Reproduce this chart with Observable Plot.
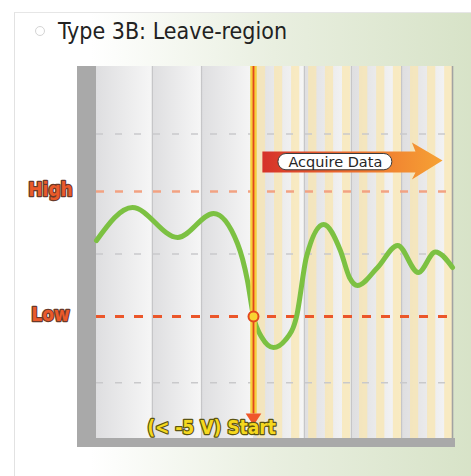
<!DOCTYPE html>
<html>
<head>
<meta charset="utf-8">
<script src="https://cdn.jsdelivr.net/npm/d3@7"></script>
<script src="https://cdn.jsdelivr.net/npm/@observablehq/plot@0.6"></script>
<style>
  html, body { margin: 0; padding: 0; background: #fff; }
  #wrap { position: relative; width: 471px; height: 476px; overflow: hidden; background: #fff; }
  #panel { position: absolute; left: 14px; top: 12px; width: 470px; height: 480px;
    border-left: 1px solid #e2e2e2; border-top: 1px solid #e6e6e6;
    background: linear-gradient(to right, #ffffff 0%, #ffffff 16%, #e9efe0 55%, #d6e2c6 100%); }
  #bullet { position: absolute; left: 35px; top: 26px; width: 8px; height: 8px; border-radius: 50%;
    border: 1px solid #d4d4d4; background: #fff; }
  #title { position: absolute; left: 58px; top: 20px; font-family: "DejaVu Sans Condensed", "DejaVu Sans", sans-serif;
    font-size: 23px; line-height: 23px; color: #222; white-space: nowrap; }
  .bar { position: absolute; background: #a9a9a9; }
  #chart { position: absolute; left: 0; top: 0; }
  #chart svg { background: transparent !important; }
</style>
</head>
<body>
<div id="wrap">
  <div id="panel"></div>
  <div id="bullet"></div>
  <div id="title">Type 3B: Leave-region</div>
  <div class="bar" style="left:77px;top:66px;width:19px;height:381px"></div>
  <div class="bar" style="left:77px;top:438px;width:378px;height:9px"></div>
  <div id="chart"></div>
</div>
<script>
// ---- data ----
const xDomain = [0, 100];
const yDomain = [-14.76, 15];
const columnEdges = [0, 15.7, 29.5, 44.1, 58.4, 71.6, 85.7, 100];
const gridX = [15.7, 29.5, 58.4, 71.6, 85.7];
const frameRightX = [100];
const stripeStarts = [45.2, 50.0, 54.8, 59.6, 64.3, 69.1, 73.9, 78.7, 83.4, 88.2, 93.0, 97.8];
const stripeWidth = 2.3;
const refLines = [9.6, 0, -10.3];
const levelNames = ["High", "Low"];
const levelValues = [5, -5];
const signalX = [0, 10.1, 22.8, 32.9, 39.6, 42.4, 44.1, 46.5, 49.7, 53.0, 56.2, 59.0, 63.8, 68.5, 71.1, 73.3, 78.9, 84.6, 90.4, 95.2, 100];
const signalY = [1.08, 3.72, 1.32, 3.24, 0.84, -2.12, -5.0, -6.7, -7.48, -6.9, -5.0, -0.2, 2.36, 0.28, -1.9, -2.52, -1.1, 0.68, -1.48, 0.16, -1.08];
const startX = 44.1;
const startLevel = -5;
const startTop = 15;
const startBottom = -12.8;
const startHeadX = [41.9, 44.1, 46.3];
const startHeadY = [-12.76, -13.72, -12.76];
const startLabel = "(< -5 V) Start";
const acquireX = [46.6, 89.6, 88.6, 97.2, 88.6, 89.6, 46.6];
const acquireY = [8.2, 8.2, 8.92, 7.48, 5.96, 6.52, 6.52];
const acquirePill = [{x1: 51.1, x2: 83.1, y1: 6.7, y2: 8.0}];
const acquireLabel = "Acquire Data";
const acquireLabelX = 67.1;
const acquireLabelY = 7.36;

// ---- derived tables ----
const columns = columnEdges.slice(0, -1).map((x1, i) => ({x1, x2: columnEdges[i + 1]}));
const stripes = stripeStarts.map(x1 => ({x1, x2: Math.min(x1 + stripeWidth, xDomain[1])}));
const signal = signalX.map((x, i) => ({x, y: signalY[i]}));
const levels = levelNames.map((name, i) => ({name, value: levelValues[i]}));
const startHead = startHeadX.map((x, i) => ({x, y: startHeadY[i]}));
const acquire = acquireX.map((x, i) => ({x, y: acquireY[i]}));
const fam = '"DejaVu Sans Condensed", "DejaVu Sans", sans-serif';

const chart = Plot.plot({
  width: 471,
  height: 476,
  marginLeft: 96,
  marginRight: 19,
  marginTop: 66,
  marginBottom: 38,
  style: {background: "transparent", overflow: "visible"},
  x: {domain: xDomain, axis: null},
  y: {domain: yDomain, axis: null},
  marks: [
    Plot.rect(columns, {x1: "x1", x2: "x2", y1: yDomain[0], y2: yDomain[1], fill: "url(#colGrad)"}),
    Plot.rect(stripes, {x1: "x1", x2: "x2", y1: yDomain[0], y2: yDomain[1], fill: "#f9e6ae", fillOpacity: 0.72}),
    Plot.ruleX(gridX, {stroke: "#c6c6c8", strokeWidth: 1.2}),
    Plot.ruleX(frameRightX, {stroke: "#a2a2a2", strokeWidth: 1.6}),
    Plot.ruleY(refLines, {stroke: "#c9c9cb", strokeWidth: 1.6, strokeDasharray: "7,12"}),
    Plot.ruleY([levelValues[0]], {stroke: "#f2a282", strokeWidth: 2.6, strokeDasharray: "8,11"}),
    Plot.ruleY([levelValues[1]], {stroke: "#eb562a", strokeWidth: 3, strokeDasharray: "9,10"}),
    Plot.line(acquire, {x: "x", y: "y", fill: "url(#arrowGrad)", stroke: "none"}),
    Plot.rect(acquirePill, {x1: "x1", x2: "x2", y1: "y1", y2: "y2", fill: "#fff", stroke: "#3c3c3c", strokeWidth: 1, rx: 8}),
    Plot.text([acquireLabel], {x: acquireLabelX, y: acquireLabelY, text: d => d, fontSize: 14.5, fill: "#262626", fontFamily: '"DejaVu Sans", sans-serif'}),
    Plot.line(signal, {x: "x", y: "y", stroke: "#7cc142", strokeWidth: 5, curve: "monotone-x", strokeLinecap: "round"}),
    Plot.ruleX([startX], {y1: startTop, y2: startBottom, stroke: "#f7cf3c", strokeWidth: 6.5}),
    Plot.ruleX([startX], {y1: startTop, y2: startBottom, stroke: "#e2461c", strokeWidth: 1.8}),
    Plot.line(startHead, {x: "x", y: "y", fill: "#f0572a", stroke: "none"}),
    Plot.dot([{x: startX, y: startLevel}], {x: "x", y: "y", r: 5, fill: "#f8d332", stroke: "#e3481e", strokeWidth: 2}),
    Plot.text(levels, {y: "value", text: "name", frameAnchor: "left", dx: -46, dy: -2, textAnchor: "middle",
      fontSize: 19, fontWeight: "bold", fontFamily: fam, fill: "#ea5a2a", stroke: "#6a3a2a", strokeWidth: 2.4}),
    Plot.text([startLabel], {x: startX, frameAnchor: "bottom", dx: -42, dy: -5, text: d => d, textAnchor: "middle",
      fontSize: 19, fontWeight: "bold", fontFamily: fam, fill: "#f5d81e", stroke: "#5b5412", strokeWidth: 2.4})
  ]
});

d3.select(chart).insert("defs", ":first-child").html(`
  <linearGradient id="colGrad" x1="0" x2="1" y1="0" y2="0">
    <stop offset="0" stop-color="#dedee0"/>
    <stop offset="1" stop-color="#f6f6f6"/>
  </linearGradient>
  <linearGradient id="arrowGrad" x1="0" x2="1" y1="0" y2="0">
    <stop offset="0" stop-color="#d5322a"/>
    <stop offset="0.45" stop-color="#ec6a2e"/>
    <stop offset="1" stop-color="#f6a234"/>
  </linearGradient>`);

document.getElementById("chart").appendChild(chart);
</script>
</body>
</html>
